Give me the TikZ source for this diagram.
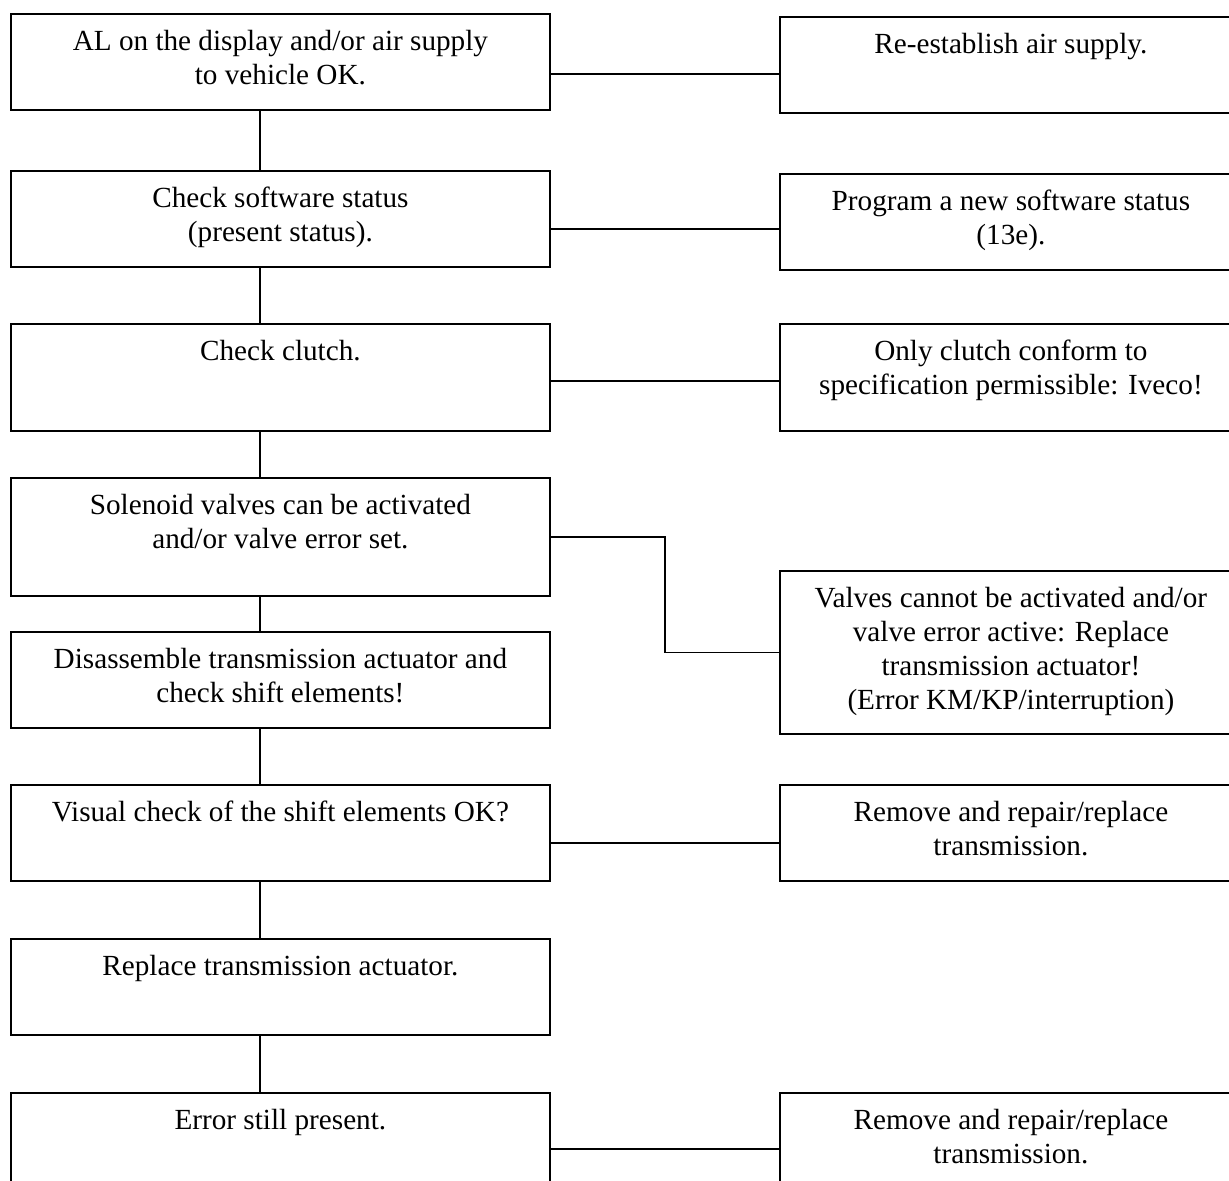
\documentclass[tikz,border=0pt]{standalone}
\usepackage{fontspec}
\setmainfont{Liberation Serif}
\usetikzlibrary{calc}

\newcommand{\steptext}[1]{\begin{tabular}[t]{@{}c@{}}#1\end{tabular}}

\begin{document}
\begin{tikzpicture}[x=0.5pt, y=-0.5pt,
    font=\fontsize{14.6pt}{17pt}\selectfont,
    stepbox/.style={draw, line width=0.9pt, anchor=north west, inner sep=0pt, text height=18.5pt, text depth=#1},
    stepbox/.default=29.5pt,
    leftbox/.style={stepbox=#1, minimum width=269.5pt},
    leftbox/.default=29.5pt,
    rightbox/.style={stepbox=#1, minimum width=231pt},
    rightbox/.default=29.5pt,
    link/.style={draw, line width=0.7pt}]

    \useasboundingbox (0,0) rectangle (1229,1180);
    \clip (0,0) rectangle (1229,1180);

    % main sequence
    \node [leftbox] (check) at (10,13) {\steptext{AL on the display and/or air supply\\to vehicle OK.}};
    \node [leftbox] (software) at (10,170) {\steptext{Check software status\\(present status).}};
    \node [leftbox=35pt] (clutch) at (10,323) {\steptext{Check clutch.}};
    \node [leftbox=40.5pt] (valves) at (10,477) {\steptext{Solenoid valves can be activated\\and/or valve error set.}};
    \node [leftbox] (disassemble) at (10,631) {\steptext{Disassemble transmission actuator and\\check shift elements!}};
    \node [leftbox] (visual) at (10,784) {\steptext{Visual check of the shift elements OK?}};
    \node [leftbox] (actuator) at (10,938) {\steptext{Replace transmission actuator.}};
    \node [leftbox] (error) at (10,1092) {\steptext{Error still present.}};

    % remedies
    \node [rightbox] (air) at (779,16) {\steptext{Re-establish air supply.}};
    \node [rightbox] (program) at (779,173) {\steptext{Program a new software status\\(13e).}};
    \node [rightbox=35pt] (iveco) at (779,323) {\steptext{Only clutch conform to\\specification permissible: Iveco!}};
    \node [rightbox=63pt] (replace) at (779,570) {\steptext{Valves cannot be activated and/or\\valve error active: Replace\\transmission actuator!\\(Error KM/KP/interruption)}};
    \node [rightbox] (repair) at (779,784) {\steptext{Remove and repair/replace\\transmission.}};
    \node [rightbox] (repair2) at (779,1092) {\steptext{Remove and repair/replace\\transmission.}};

    \coordinate (spine) at (260,0);

    \draw [link] (check.south -| spine) -- (software.north -| spine);
    \draw [link] (software.south -| spine) -- (clutch.north -| spine);
    \draw [link] (clutch.south -| spine) -- (valves.north -| spine);
    \draw [link] (valves.south -| spine) -- (disassemble.north -| spine);
    \draw [link] (disassemble.south -| spine) -- (visual.north -| spine);
    \draw [link] (visual.south -| spine) -- (actuator.north -| spine);
    \draw [link] (actuator.south -| spine) -- (error.north -| spine);

    \draw [link] ([yshift=-6pt]check.east) -- ([yshift=-6pt]check.east -| air.west);
    \draw [link] ([yshift=-5pt]software.east) -- ([yshift=-5pt]software.east -| program.west);
    \draw [link] ([yshift=-1.75pt]clutch.east) -- ([yshift=-1.75pt]clutch.east -| iveco.west);
    \draw [link] (valves.east) -| ($(valves.east)!.5!(replace.west)$) |- (replace.west);
    \draw [link] ([yshift=-5pt]visual.east) -- ([yshift=-5pt]visual.east -| repair.west);
    \draw [link] ([yshift=-4pt]error.east) -- ([yshift=-4pt]error.east -| repair2.west);
\end{tikzpicture}
\end{document}
